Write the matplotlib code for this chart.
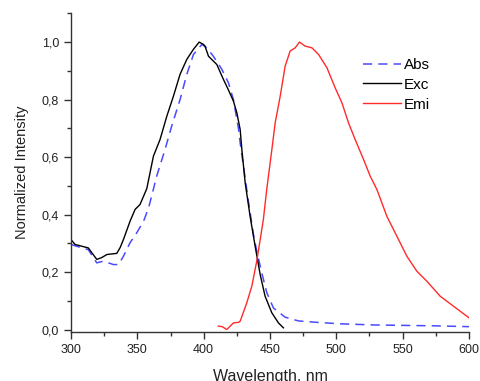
import matplotlib.pyplot as plt
from matplotlib.ticker import MultipleLocator, FuncFormatter

plt.rcParams['font.family'] = ['Liberation Sans', 'DejaVu Sans']

# excitation spectrum
exc_wl = [300, 303, 313, 319.4, 323, 327, 334.5, 337, 339.5, 344.5, 348.3, 352, 357.1,
          362.1, 367.1, 372.2, 377.2, 382.2, 387.3, 392.3, 396.6, 399.8, 401, 403.6,
          407.3, 409.9, 414.9, 418.5, 422.4, 425, 427.5, 428.8, 431.3, 435, 438.8,
          442.6, 446.3, 451.4, 456.4, 460.1]
exc_int = [0.313, 0.296, 0.284, 0.244, 0.250, 0.261, 0.265, 0.285, 0.313, 0.377, 0.418,
           0.435, 0.490, 0.603, 0.661, 0.742, 0.812, 0.888, 0.940, 0.975, 1.0,
           0.992, 0.986, 0.951, 0.934, 0.922, 0.870, 0.835, 0.795, 0.754, 0.696,
           0.625, 0.510, 0.394, 0.290, 0.191, 0.116, 0.058, 0.023, 0.006]

# absorption spectrum
abs_wl = [300, 304, 313, 319.4, 324.4, 332, 335.8, 339.5, 344.5, 349.6, 354.7, 358.5,
          361.7, 364.6, 370.9, 375.9, 382.2, 387.3, 392.3, 398.6, 402.4, 407.4,
          413.7, 418.7, 422.4, 426.2, 427.5, 433.7, 437.5, 440, 443.8, 447.6,
          452.6, 461.4, 471.5, 485.3, 502.9, 528, 573.3, 600]
abs_int = [0.296, 0.290, 0.278, 0.232, 0.238, 0.226, 0.226, 0.255, 0.302, 0.337, 0.377,
           0.424, 0.481, 0.534, 0.627, 0.708, 0.800, 0.888, 0.957, 0.992, 0.980,
           0.950, 0.905, 0.858, 0.800, 0.700, 0.650, 0.447, 0.331, 0.273, 0.197,
           0.128, 0.075, 0.043, 0.030, 0.025, 0.020, 0.016, 0.013, 0.010]

# emission spectrum
emi_wl = [411.1, 414, 417.4, 422.4, 426.2, 427.5, 432.5, 436.3, 440, 442.6, 445, 447.6,
          451.4, 453.9, 457.7, 461.4, 465.2, 469, 472.2, 476.5, 481.6, 486.6,
          492.9, 499.1, 504.2, 509.2, 514.2, 520.5, 525.5, 530.6, 538.1, 545.6,
          553.2, 560.7, 568.3, 578.3, 588.4, 600]
emi_int = [0.012, 0.010, 0.0, 0.023, 0.025, 0.029, 0.093, 0.151, 0.238, 0.313, 0.383, 0.490,
           0.626, 0.719, 0.812, 0.916, 0.969, 0.980, 1.0, 0.986, 0.980, 0.957,
           0.911, 0.841, 0.789, 0.719, 0.661, 0.592, 0.534, 0.487, 0.394, 0.325,
           0.255, 0.203, 0.168, 0.116, 0.081, 0.041]

fig = plt.figure(figsize=(4.8, 3.81), dpi=100)
ax = fig.add_axes([0.148, 0.129, 0.829, 0.836])

ax.plot(abs_wl, abs_int, color='#4a4aff', lw=1.1, dashes=(6, 4), label='Abs')
ax.plot(exc_wl, exc_int, color='black', lw=1.0, label='Exc')
ax.plot(emi_wl, emi_int, color='#ff2a2a', lw=1.0, label='Emi')

ax.set_xlim(300, 600)
ax.set_ylim(-0.008, 1.1)
ax.xaxis.set_major_locator(MultipleLocator(50))
ax.xaxis.set_minor_locator(MultipleLocator(25))
ax.yaxis.set_major_locator(MultipleLocator(0.2))
ax.yaxis.set_minor_locator(MultipleLocator(0.1))
ax.yaxis.set_major_formatter(FuncFormatter(lambda v, p: f"{v:.1f}".replace('.', ',')))

for s in ['top', 'right']:
    ax.spines[s].set_visible(False)
for s in ['left', 'bottom']:
    ax.spines[s].set_linewidth(1.0)
    ax.spines[s].set_color('#333333')

ax.tick_params(which='major', direction='out', length=5, width=1, labelsize=9,
               color='#333333', labelcolor='#222222')
ax.tick_params(axis='x', which='major', pad=4)
ax.tick_params(which='minor', direction='out', length=3, width=1, color='#333333')

ax.set_xlabel('Wavelength, nm', fontsize=11.5, color='#222222', labelpad=9)
ax.set_ylabel('Normalized Intensity', fontsize=10.5, color='#222222', labelpad=9)

ax.legend(loc='upper left', bbox_to_anchor=(0.734, 0.86), frameon=False,
          fontsize=11, handlelength=2.5, handletextpad=0.15, labelspacing=0.38,
          borderpad=0, borderaxespad=0)

fig.savefig('out.png', dpi=100)
